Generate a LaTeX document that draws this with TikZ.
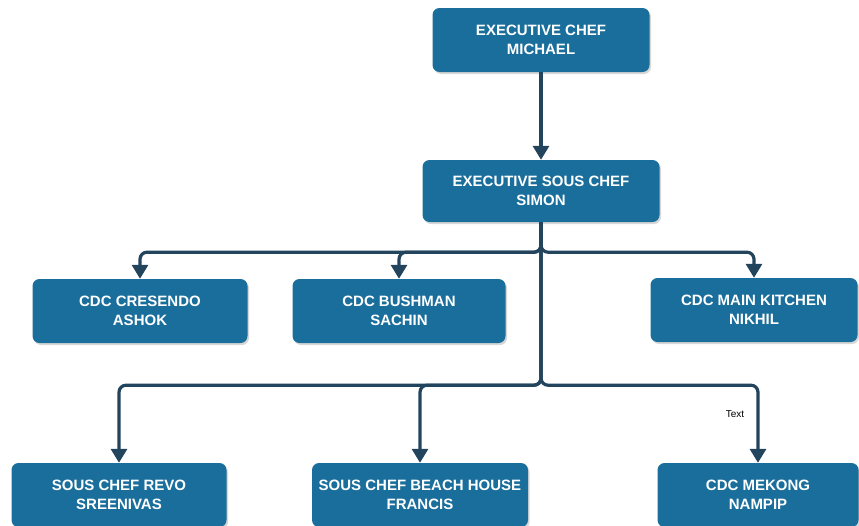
\documentclass[tikz,border=0pt]{standalone}
\usepackage{fontspec}
\setmainfont{Liberation Sans}
\usetikzlibrary{arrows.meta,shadows}
\definecolor{boxblue}{HTML}{1A6E9C}
\definecolor{linenavy}{HTML}{23445D}
\begin{document}
\begin{tikzpicture}[x=1pt,y=-1pt,
chefbox/.style={fill=boxblue,rounded corners=7pt,text=white,align=center,inner sep=0pt,
  font=\fontsize{15}{18.5}\selectfont\bfseries,minimum height=64pt,
  drop shadow={shadow xshift=1.5pt,shadow yshift=-2pt,fill=gray!45,opacity=0.7}},
reportline/.style={line width=3.2pt,draw=linenavy,rounded corners=7pt,
  -{Triangle[width=16pt,length=14pt]}}]
\useasboundingbox (0,0) rectangle (859,525);
% boxes
\node[chefbox,minimum width=217pt] (michael) at (541,40) {EXECUTIVE CHEF\\MICHAEL};
\node[chefbox,minimum width=237pt,minimum height=62pt] (simon) at (541,191) {EXECUTIVE SOUS CHEF\\SIMON};
\node[chefbox,minimum width=215pt] (ashok) at (140,311) {CDC CRESENDO\\ASHOK};
\node[chefbox,minimum width=213pt] (sachin) at (399,311) {CDC BUSHMAN\\SACHIN};
\node[chefbox,minimum width=207pt] (nikhil) at (754,310) {CDC MAIN KITCHEN\\NIKHIL};
\node[chefbox,minimum width=215pt] (sreenivas) at (119,495) {SOUS CHEF REVO\\SREENIVAS};
\node[chefbox,minimum width=216pt] (francis) at (420,495) {SOUS CHEF BEACH HOUSE\\FRANCIS};
\node[chefbox,minimum width=201pt] (nampip) at (758,495) {CDC MEKONG\\NAMPIP};
% connectors
\draw[reportline] (michael.south) -- (simon.north);
\draw[reportline] (simon.south) -- ++(0,30) -| (ashok.north);
\draw[reportline] (simon.south) -- ++(0,30) -| (sachin.north);
\draw[reportline] (simon.south) -- ++(0,30) -| (nikhil.north);
\draw[reportline] (simon.south) -- ++(0,163) -| (sreenivas.north);
\draw[reportline] (simon.south) -- ++(0,163) -| (francis.north);
\draw[reportline] (simon.south) -- ++(0,163) -| (nampip.north);
\node[font=\fontsize{10}{12}\selectfont] (textlbl) at (735,414) {Text};
\end{tikzpicture}
\end{document}
